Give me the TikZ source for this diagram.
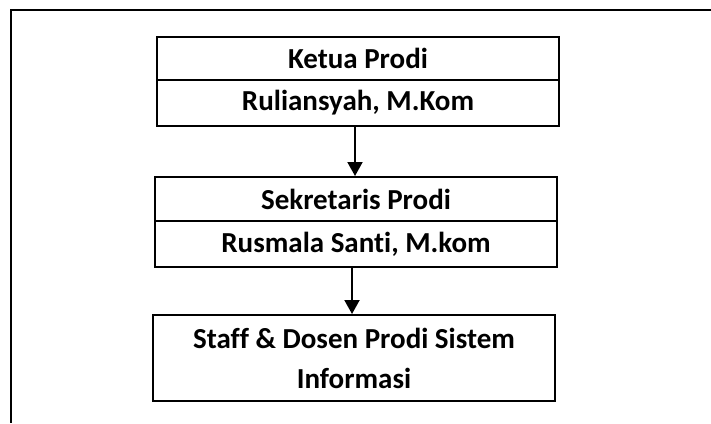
\documentclass[tikz,border=0pt]{standalone}
\usepackage{fontspec}
\setmainfont{Carlito}[Ligatures={NoCommon}]
\usetikzlibrary{arrows.meta}
\tikzset{
  cell/.style={draw=black, line width=2pt, minimum width=402pt, inner sep=0pt,
    font=\fontsize{29}{40}\selectfont\bfseries, align=center, anchor=center},
  link/.style={line width=2pt, -{Triangle[width=15pt,length=14pt]}},
  frame/.style={line width=2pt}
}
\begin{document}
\begin{tikzpicture}[x=1pt,y=-1pt]
\useasboundingbox (0,0) rectangle (711,423);
\coordinate (ftl) at (11,10);
\coordinate (ftr) at (711,10);
\coordinate (fbl) at (11,423);
\draw[frame] (ftr) -- (ftl) -- (fbl);
\node[cell, minimum height=43pt] (k1) at (358,58.5) {Ketua Prodi};
\node[cell, minimum height=46pt] (k2) at (358,103) {Ruliansyah, M.Kom};
\node[cell, minimum height=44pt] (s1) at (356,199) {Sekretaris Prodi};
\node[cell, minimum height=46pt] (s2) at (356,244) {Rusmala Santi, M.kom};
\node[cell, minimum height=86pt] (t1) at (354,358) {Staff \& Dosen Prodi Sistem\\Informasi};
\draw[link] ([xshift=-3pt]k2.south) -- ([xshift=-3pt]k2.south |- s1.north);
\draw[link] ([xshift=-4pt]s2.south) -- ([xshift=-4pt]s2.south |- t1.north);
\end{tikzpicture}
\end{document}
